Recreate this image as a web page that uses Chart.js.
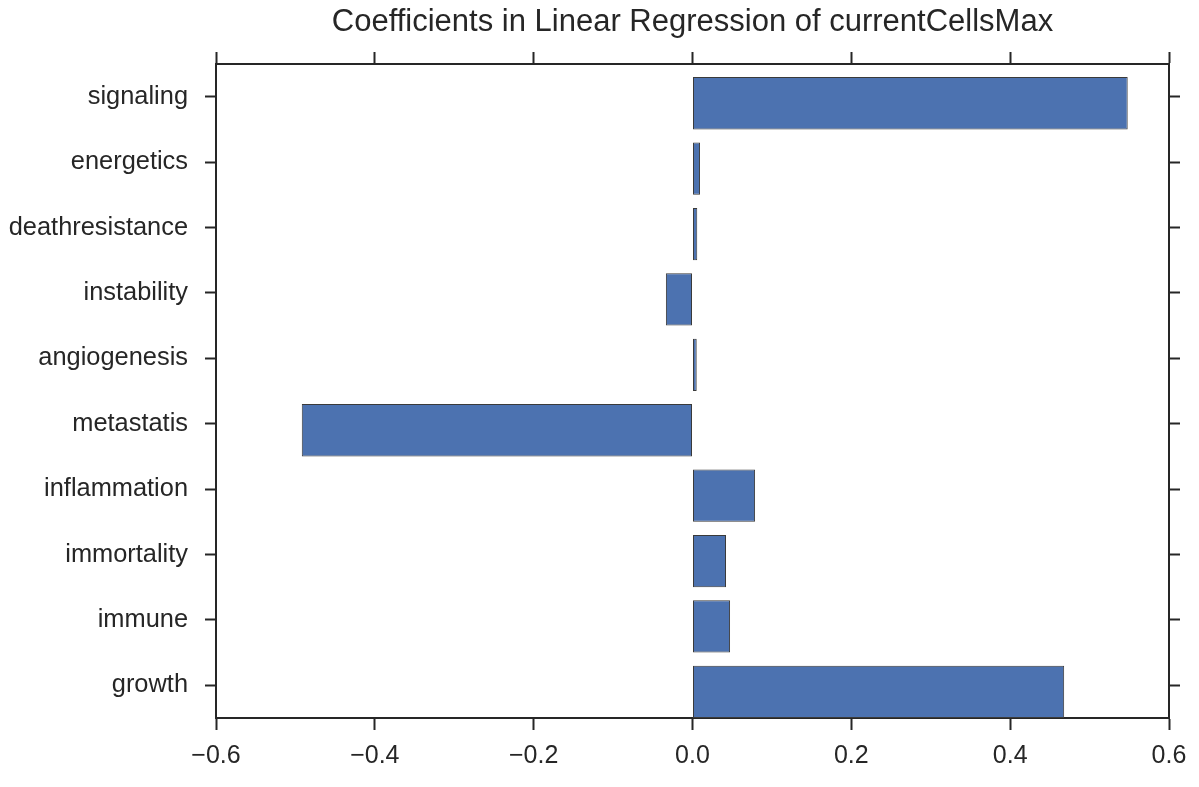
<!DOCTYPE html>
<html>
<head>
<meta charset="utf-8">
<script src="https://cdn.jsdelivr.net/npm/chart.js@4"></script>
<style>
  html, body { margin: 0; padding: 0; background: #ffffff; }
  #wrap { width: 1199px; height: 787px; position: relative; }
</style>
</head>
<body>
<div id="wrap"><canvas id="chart" width="1199" height="787"></canvas></div>
<script>
// Regression coefficients per feature (top to bottom)
const features = [
  'signaling', 'energetics', 'deathresistance', 'instability', 'angiogenesis',
  'metastatis', 'inflammation', 'immortality', 'immune', 'growth'
];
const coefficients = [
  0.548, 0.0095, 0.006, -0.0335, 0.0053,
  -0.492, 0.0788, 0.0422, 0.0473, 0.468
];
const xTicks = [-0.6, -0.4, -0.2, 0.0, 0.2, 0.4, 0.6];
const titleText = 'Coefficients in Linear Regression of currentCellsMax';

const ink = '#262626';
const fontFamily = '"Liberation Sans", Arial, Helvetica, sans-serif';

// Bars sit on the lower edge of their row: shift them down by this
// fraction of a row relative to the centred category tick.
const barShift = 0.1;

function fmt(v) {
  return v.toFixed(1).replace('-', '\u2212');
}

// Frame axis: no grid lines inside, outward tick marks only
function frameGrid(len) {
  return {
    drawOnChartArea: false,
    drawTicks: true,
    tickLength: len,
    tickColor: ink,
    tickWidth: 2,
    offset: false
  };
}
const frameBorder = { display: true, color: ink, width: 2 };

const edgeAlignBars = {
  id: 'edgeAlignBars',
  beforeDatasetsDraw(chart) {
    const y = chart.scales.y;
    const row = Math.abs(y.getPixelForValue(1) - y.getPixelForValue(0));
    chart.ctx.save();
    chart.ctx.translate(0, row * barShift);
  },
  afterDatasetsDraw(chart) {
    chart.ctx.restore();
  }
};

new Chart(document.getElementById('chart'), {
  type: 'bar',
  data: {
    labels: features,
    datasets: [{
      data: coefficients,
      backgroundColor: '#4C72B0',
      borderColor: '#3a3a3a',
      borderWidth: 1,
      borderSkipped: false,
      barPercentage: 0.8,
      categoryPercentage: 1.0
    }]
  },
  plugins: [edgeAlignBars],
  options: {
    indexAxis: 'y',
    responsive: false,
    animation: false,
    layout: { padding: { left: 0, right: 0, top: 0, bottom: 0 } },
    plugins: {
      legend: { display: false },
      tooltip: { enabled: false },
      title: { display: false }
    },
    scales: {
      x: {
        type: 'linear',
        position: 'bottom',
        min: xTicks[0],
        max: xTicks[xTicks.length - 1],
        afterBuildTicks: (s) => { s.ticks = xTicks.map(v => ({ value: v })); },
        afterFit: (s) => { s.height = 69; },
        grid: frameGrid(12),
        border: frameBorder,
        ticks: {
          color: ink,
          padding: 11,
          font: { family: fontFamily, size: 25 },
          callback: (v) => fmt(v)
        }
      },
      // Top frame edge; carries the plot title centred over the axes
      x2: {
        type: 'linear',
        position: 'top',
        min: xTicks[0],
        max: xTicks[xTicks.length - 1],
        afterBuildTicks: (s) => { s.ticks = xTicks.map(v => ({ value: v })); },
        afterFit: (s) => { s.height = 64; },
        grid: frameGrid(12),
        border: frameBorder,
        ticks: { display: false },
        title: {
          display: true,
          text: titleText,
          color: ink,
          font: { family: fontFamily, size: 31, weight: 'normal' },
          padding: { top: 4, bottom: 0 }
        }
      },
      y: {
        type: 'category',
        position: 'left',
        offset: true,
        afterFit: (s) => { s.width = 216; },
        grid: frameGrid(11),
        border: frameBorder,
        ticks: {
          color: ink,
          padding: 17,
          font: { family: fontFamily, size: 25.4 }
        }
      },
      y2: {
        type: 'category',
        position: 'right',
        offset: true,
        labels: features,
        afterFit: (s) => { s.width = 30; },
        grid: frameGrid(11),
        border: frameBorder,
        ticks: { display: false }
      }
    }
  }
});
</script>
</body>
</html>
